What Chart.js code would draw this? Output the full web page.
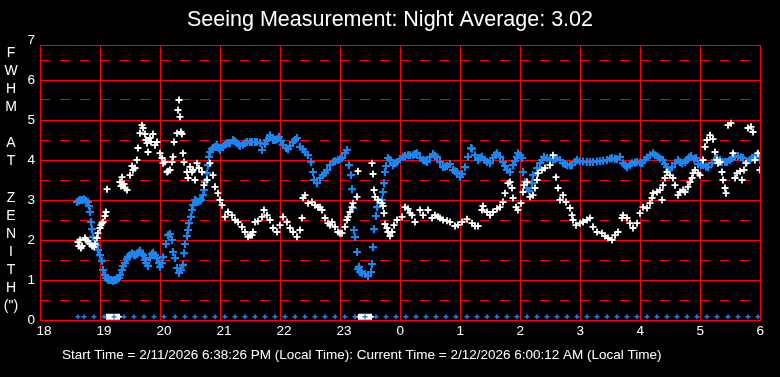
<!DOCTYPE html>
<html>
<head>
<meta charset="utf-8">
<title>Seeing Measurement</title>
<script src="https://cdn.jsdelivr.net/npm/chart.js@4.4.1/dist/chart.umd.min.js"></script>
<style>
  html, body { margin: 0; padding: 0; background: #000; }
  #wrap { width: 780px; height: 377px; }
</style>
</head>
<body>
<div id="wrap"><canvas id="seeingChart" width="780" height="377"></canvas></div>
<script>
// x values are minutes after 18:00 local time
const xTickMinutes = [0, 60, 120, 180, 240, 300, 360, 420, 480, 540, 600, 660, 720];
const xTickLabels = ['18', '19', '20', '21', '22', '23', '0', '1', '2', '3', '4', '5', '6'];
const yTickValues = [0, 1, 2, 3, 4, 5, 6];
const yHalfValues = [0.5, 1.5, 2.5, 3.5, 4.5, 5.5, 6.5];

const blueMinutes = [37, 40, 44, 48, 49, 50, 51, 52, 53, 55, 56, 58, 60, 62, 63, 65, 68, 71, 74, 77,
  79, 80, 82, 83, 85, 88, 92, 95, 98, 100, 103, 106, 108, 110, 112, 113, 115, 117, 120, 122,
  123, 126, 128, 130, 132, 133, 135, 137, 139, 141, 143, 144, 145, 147, 148, 149, 151, 152, 153, 155,
  158, 161, 163, 164, 165, 167, 168, 169, 170, 173, 175, 177, 180, 183, 187, 190, 193, 197, 200, 203,
  207, 212, 217, 220, 222, 225, 227, 230, 233, 235, 239, 243, 246, 248, 253, 257, 260, 265, 268, 271,
  273, 274, 277, 280, 283, 287, 290, 293, 298, 302, 305, 307, 309, 311, 312, 313, 314, 315, 317, 318,
  319, 320, 322, 325, 328, 331, 332, 333, 334, 336, 337, 340, 342, 343, 344, 345, 346, 348, 350, 353,
  357, 360, 363, 368, 373, 377, 380, 383, 387, 390, 393, 397, 400, 403, 407, 410, 413, 417, 420, 422,
  425, 428, 431, 432, 435, 438, 442, 447, 450, 453, 457, 460, 463, 467, 470, 473, 477, 478, 482, 483,
  485, 487, 489, 492, 493, 497, 500, 504, 507, 510, 513, 517, 520, 523, 527, 532, 537, 540, 547, 553,
  560, 567, 572, 577, 580, 583, 587, 592, 597, 602, 605, 610, 613, 618, 623, 627, 629, 632, 635, 638,
  642, 647, 651, 654, 658, 663, 668, 672, 677, 682, 687, 692, 698, 703, 707, 712, 717, 720,
  // extra samples filling the dense stretches
  39, 42, 46, 66, 70, 73, 76, 87, 90, 94, 97, 102, 105, 119, 156, 160, 172, 179, 185, 189,
  195, 199, 205, 210, 215, 229, 237, 241, 250, 255, 263, 285, 295, 300, 355, 365, 370, 375, 385, 395,
  405, 415, 440, 445, 455, 465, 475, 480, 502, 515, 525, 530, 535, 543, 550, 557, 563, 570, 575, 585,
  590, 595, 600, 607, 615, 620, 625, 640, 645, 649, 656, 661, 666, 675, 680, 685, 690, 695, 701, 710, 715];
const blueSeeing = [2.95, 3.0, 3.02, 2.95, 2.85, 2.7, 2.45, 2.27, 2.08, 1.92, 1.88, 1.75, 1.62, 1.48, 1.25, 1.12, 1.0, 1.0, 1.0, 1.02,
  1.05, 1.12, 1.25, 1.35, 1.42, 1.58, 1.67, 1.62, 1.68, 1.73, 1.62, 1.42, 1.35, 1.55, 1.65, 1.68, 1.62, 1.55, 1.33, 1.42,
  1.57, 1.9, 2.12, 2.15, 2.0, 1.7, 1.55, 1.3, 1.18, 1.25, 1.38, 1.67, 1.9, 2.1, 2.25, 2.42, 2.58, 2.75, 2.87, 3.0,
  2.95, 3.0, 3.12, 3.25, 3.45, 3.67, 3.87, 4.08, 4.2, 4.3, 4.33, 4.38, 4.25, 4.33, 4.42, 4.42, 4.5, 4.42, 4.35, 4.38,
  4.45, 4.45, 4.45, 4.43, 4.25, 4.4, 4.5, 4.62, 4.5, 4.5, 4.58, 4.38, 4.3, 4.27, 4.45, 4.55, 4.33, 4.2, 4.12, 3.95,
  3.7, 3.5, 3.42, 3.55, 3.62, 3.75, 3.87, 3.95, 4.0, 4.05, 4.17, 4.25, 3.87, 3.62, 3.27, 2.8, 2.25, 2.07, 1.7, 1.27,
  1.33, 1.2, 1.17, 1.15, 1.1, 1.2, 1.4, 1.82, 2.27, 2.6, 2.82, 2.95, 3.0, 3.2, 3.42, 3.7, 3.85, 4.05, 4.0, 3.87,
  3.95, 4.02, 4.08, 4.12, 4.12, 4.17, 4.05, 4.0, 3.95, 4.07, 4.15, 4.07, 3.95, 3.82, 3.85, 3.9, 3.75, 3.7, 3.58, 3.65,
  3.82, 4.08, 4.3, 4.28, 4.12, 4.0, 4.08, 3.95, 3.92, 4.05, 4.17, 4.08, 3.95, 3.75, 3.7, 3.87, 4.08, 4.17, 4.05, 3.7,
  3.45, 3.3, 3.22, 3.42, 3.62, 3.8, 3.92, 4.08, 4.05, 4.0, 4.0, 4.05, 4.0, 3.92, 3.87, 3.87, 4.0, 3.97, 3.95, 3.95,
  3.97, 4.0, 4.05, 4.02, 4.08, 3.92, 3.82, 3.92, 3.95, 3.92, 4.0, 4.12, 4.17, 4.08, 4.0, 3.82, 3.75, 3.82, 3.92, 4.0,
  3.92, 4.0, 4.1, 4.02, 3.9, 3.87, 3.82, 3.92, 4.05, 3.95, 3.95, 4.05, 4.1, 4.05, 3.95, 4.05, 4.12, 4.0,
  2.98, 3.0, 2.98, 1.05, 1.0, 0.98, 1.0, 1.52, 1.62, 1.64, 1.65, 1.66, 1.5, 1.42, 2.98, 2.98, 4.27, 4.3, 4.38, 4.42,
  4.47, 4.38, 4.42, 4.45, 4.45, 4.55, 4.52, 4.48, 4.35, 4.5, 4.27, 3.68, 3.97, 4.02, 3.92, 4.1, 4.12, 4.15, 3.98, 4.1,
  3.83, 3.72, 4.05, 4.0, 4.12, 3.85, 3.98, 4.12, 4.0, 4.02, 3.9, 3.87, 3.95, 3.96, 3.95, 3.96, 3.98, 4.03, 4.03, 3.87,
  3.88, 3.93, 3.93, 4.06, 4.12, 4.04, 3.9, 3.95, 3.95, 4.06, 4.05, 3.88, 3.84, 4.0, 4.0, 3.95, 4.0, 4.08, 4.07, 4.0, 4.08];

const whiteMinutes = [38, 39, 40, 41, 42, 45, 46, 48, 50, 52, 54, 55, 57, 58, 60, 61, 62, 63, 65, 66,
  67, 80, 81, 82, 84, 85, 87, 90, 92, 93, 95, 97, 98, 100, 102, 103, 105, 106, 107, 108,
  110, 111, 113, 115, 117, 120, 122, 123, 125, 127, 128, 130, 132, 133, 134, 137, 138, 139, 140, 141,
  142, 143, 144, 147, 148, 150, 152, 153, 155, 157, 159, 162, 164, 167, 170, 173, 175, 178, 180, 182,
  185, 188, 192, 195, 198, 202, 205, 208, 210, 212, 213, 215, 218, 222, 224, 227, 230, 233, 237, 240,
  243, 247, 250, 253, 257, 260, 262, 263, 265, 268, 272, 275, 278, 280, 282, 285, 288, 290, 292, 295,
  298, 300, 302, 305, 307, 308, 310, 312, 313, 317, 318, 332, 333, 334, 335, 338, 342, 343, 344, 345,
  347, 348, 350, 352, 354, 357, 362, 365, 368, 370, 372, 375, 380, 383, 388, 392, 395, 398, 400, 403,
  407, 410, 415, 418, 422, 427, 432, 435, 438, 442, 443, 447, 450, 453, 457, 460, 463, 465, 468, 470,
  472, 473, 476, 478, 481, 483, 484, 487, 490, 493, 495, 497, 498, 502, 505, 510, 513, 516, 518, 520,
  523, 526, 530, 532, 533, 536, 540, 543, 547, 550, 553, 557, 562, 565, 568, 572, 575, 578, 582, 583,
  587, 590, 593, 597, 600, 603, 607, 610, 612, 613, 617, 620, 622, 623, 625, 627, 630, 633, 635, 638,
  640, 643, 645, 648, 650, 652, 653, 655, 658, 660, 663, 665, 667, 670, 673, 675, 677, 678, 680, 682,
  683, 685, 686, 688, 691, 693, 695, 697, 700, 702, 704, 706, 708, 711, 713, 715, 718, 720];
const whiteSeeing = [1.95, 1.85, 2.0, 1.8, 1.85, 2.05, 2.0, 1.97, 1.9, 1.85, 1.83, 1.9, 2.05, 2.17, 2.3, 2.37, 2.42, 2.45, 2.6, 2.7,
  3.27, 3.45, 3.35, 3.57, 3.4, 3.3, 3.25, 3.62, 3.85, 3.75, 3.8, 4.0, 4.3, 4.67, 4.87, 4.8, 4.65, 4.5, 4.42, 4.2,
  4.55, 4.45, 4.65, 4.37, 4.45, 4.17, 4.05, 3.92, 3.95, 3.7, 3.72, 3.75, 3.95, 4.08, 4.45, 4.67, 5.25, 5.5, 5.08, 4.7,
  4.65, 4.17, 3.95, 3.7, 3.55, 3.83, 3.7, 3.75, 3.5, 3.92, 3.8, 3.7, 3.37, 3.5, 3.92, 3.62, 3.33, 3.17, 3.0, 2.87,
  2.58, 2.7, 2.62, 2.5, 2.45, 2.33, 2.2, 2.08, 2.12, 2.12, 2.2, 2.45, 2.47, 2.58, 2.75, 2.62, 2.5, 2.3, 2.2, 2.37,
  2.58, 2.45, 2.3, 2.2, 2.08, 2.25, 2.55, 3.05, 3.12, 2.92, 2.95, 2.87, 2.82, 2.82, 2.75, 2.55, 2.42, 2.37, 2.45, 2.33,
  2.2, 2.17, 2.17, 2.33, 2.5, 2.58, 2.7, 2.82, 2.92, 3.08, 3.72, 3.92, 3.65, 3.25, 3.08, 3.0, 2.92, 2.85, 2.67, 2.4,
  2.3, 2.2, 2.1, 2.2, 2.37, 2.5, 2.58, 2.82, 2.78, 2.68, 2.62, 2.45, 2.75, 2.62, 2.75, 2.55, 2.62, 2.58, 2.55, 2.5,
  2.48, 2.45, 2.35, 2.38, 2.45, 2.52, 2.42, 2.35, 2.35, 2.75, 2.85, 2.7, 2.62, 2.7, 2.78, 2.82, 2.95, 3.17, 3.42, 3.45,
  3.3, 3.05, 2.82, 2.75, 2.92, 3.2, 3.37, 3.45, 3.08, 3.12, 3.3, 3.5, 3.67, 3.75, 3.8, 3.87, 4.12, 3.57, 3.3, 3.0,
  3.12, 2.95, 2.8, 2.62, 2.5, 2.37, 2.42, 2.45, 2.5, 2.55, 2.33, 2.2, 2.17, 2.1, 2.05, 2.0, 2.12, 2.2, 2.55, 2.62,
  2.55, 2.42, 2.3, 2.42, 2.67, 2.82, 2.8, 2.92, 3.05, 3.17, 3.2, 3.25, 3.0, 3.37, 3.55, 3.7, 3.62, 3.55, 3.37, 3.12,
  3.2, 3.25, 3.2, 3.33, 3.45, 3.55, 3.67, 3.75, 3.67, 3.62, 4.0, 4.33, 4.5, 4.62, 4.52, 4.2, 4.0, 3.92, 3.95, 3.7,
  3.5, 3.3, 3.17, 4.87, 4.92, 4.17, 3.55, 3.67, 3.72, 3.5, 3.75, 3.92, 4.8, 4.83, 4.7, 4.0, 4.17, 3.75];

// status marks along the bottom edge
const bottomLevel = 0.08;
const blueMarkMinutes = [38, 44, 54, 64, 74, 84, 94, 104, 114, 124, 135, 145, 155, 165, 175, 185, 195, 205, 215, 225,
  235, 245, 255, 265, 275, 285, 295, 305, 315, 325, 336, 346, 356, 366, 376, 386, 396, 406, 416, 427,
  437, 447, 457, 467, 477, 487, 497, 507, 517, 527, 537, 547, 557, 567, 577, 587, 597, 607, 617, 627,
  637, 647, 657, 667, 677, 688, 698, 708, 718];
const whiteMarkMinutes = [67, 69, 71, 73, 75, 77, 79, 319, 321, 323, 325, 327, 329, 331];

const axisLetters = ['F', 'W', 'H', 'M', '', 'A', 'T', '', 'Z', 'E', 'N', 'I', 'T', 'H', '(")'];
const footerText = 'Start Time = 2/11/2026 6:38:26 PM (Local Time): Current Time = 2/12/2026 6:00:12 AM (Local Time)';

const FONT = "'Liberation Sans', Arial, sans-serif";
const RED = '#ff0000';
const BLUE = '#1e84ee';

const toPoints = (xs, ys) => xs.map((x, i) => ({ x, y: ys[i] }));
const atLevel = (xs, level) => xs.map(x => ({ x, y: level }));

const sideLabels = {
  id: 'sideLabels',
  afterDraw(chart) {
    const c = chart.ctx;
    const yScale = chart.scales.y;
    c.save();
    c.fillStyle = '#fff';
    c.textBaseline = 'middle';
    c.textAlign = 'center';
    c.font = `14px ${FONT}`;
    axisLetters.forEach((ch, i) => c.fillText(ch, 11, 53 + i * 18.1));
    c.textAlign = 'right';
    c.font = `13.5px ${FONT}`;
    c.fillText('7', chart.chartArea.left - 5, yScale.getPixelForValue(7));
    c.textAlign = 'left';
    c.font = `13.5px ${FONT}`;
    c.fillText(footerText, 62, 355);
    c.restore();
  }
};

const ctx = document.getElementById('seeingChart').getContext('2d');

new Chart(ctx, {
  type: 'scatter',
  data: {
    datasets: [
      {
        label: 'White',
        data: toPoints(whiteMinutes, whiteSeeing),
        pointStyle: 'cross',
        pointRadius: 3.5,
        borderColor: '#ffffff',
        borderWidth: 1.8,
        order: 1
      },
      {
        label: 'Blue',
        data: toPoints(blueMinutes, blueSeeing),
        pointStyle: 'cross',
        pointRadius: 4,
        borderColor: BLUE,
        borderWidth: 2.2,
        order: 2
      },
      {
        label: 'Blue marks',
        data: atLevel(blueMarkMinutes, bottomLevel),
        pointStyle: 'cross',
        pointRadius: 2.5,
        borderColor: BLUE,
        borderWidth: 1.4,
        order: 3
      },
      {
        label: 'White marks',
        data: atLevel(whiteMarkMinutes, bottomLevel),
        pointStyle: 'cross',
        pointRadius: 3,
        borderColor: '#ffffff',
        borderWidth: 2,
        order: 4
      }
    ]
  },
  options: {
    responsive: false,
    animation: false,
    devicePixelRatio: 1,
    layout: { padding: 0 },
    plugins: {
      legend: { display: false },
      tooltip: { enabled: false },
      title: {
        display: true,
        text: 'Seeing Measurement: Night Average: 3.02',
        color: '#ffffff',
        font: { family: FONT, size: 21.5, weight: 'normal' },
        padding: { top: 7, bottom: 12.2 }
      }
    },
    scales: {
      x: {
        type: 'linear',
        min: 0,
        max: 720,
        afterBuildTicks: (s) => { s.ticks = xTickMinutes.map(v => ({ value: v })); },
        afterFit: (s) => { s.height = 57; },
        ticks: {
          color: '#ffffff',
          font: { family: FONT, size: 13.5 },
          padding: 3,
          align: 'start',
          labelOffset: -3.5,
          autoSkip: false,
          maxRotation: 0,
          callback: (val, i) => xTickLabels[i]
        },
        grid: { color: RED, lineWidth: 1, drawTicks: false },
        border: { color: RED, width: 1 }
      },
      y: {
        position: 'left',
        min: 0,
        max: 6.875,
        afterBuildTicks: (s) => { s.ticks = yTickValues.concat([6.875]).map(v => ({ value: v })); },
        afterFit: (s) => { s.width = 40; },
        ticks: {
          color: '#ffffff',
          font: { family: FONT, size: 13.5 },
          padding: 5,
          autoSkip: false,
          callback: (val) => (yTickValues.includes(val) ? String(val) : '')
        },
        grid: { color: RED, lineWidth: 1, drawTicks: false },
        border: { color: RED, width: 1 }
      },
      // half-step dashed lines; sits on the right and also reserves the right margin
      yHalf: {
        axis: 'y',
        position: 'right',
        min: 0,
        max: 6.875,
        afterBuildTicks: (s) => { s.ticks = yHalfValues.map(v => ({ value: v })); },
        afterFit: (s) => { s.width = 20; },
        ticks: { display: false },
        grid: { color: RED, lineWidth: 1, drawTicks: false },
        border: { display: false, dash: [10, 10] }
      }
    }
  },
  plugins: [sideLabels]
});
</script>
</body>
</html>
